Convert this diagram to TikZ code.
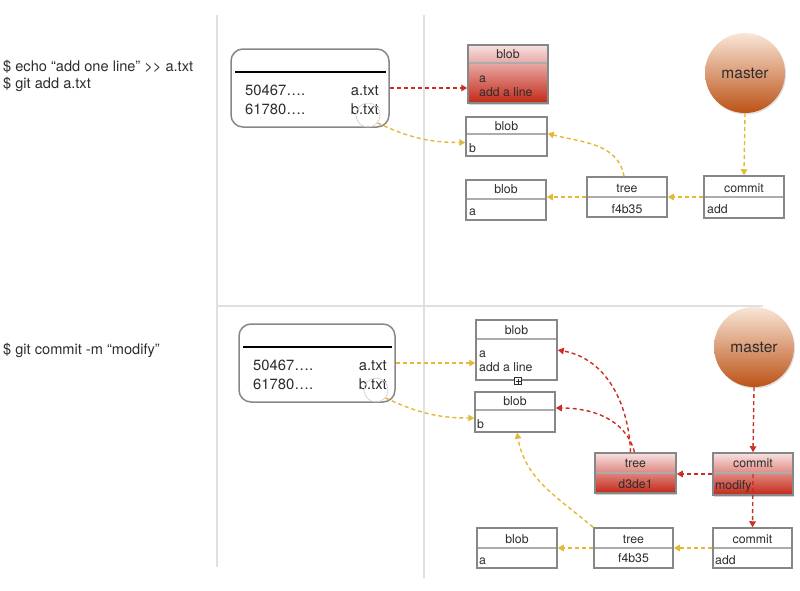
\documentclass[tikz,border=0pt]{standalone}
\usepackage{fontspec}
\setmainfont{TeX Gyre Heros}
\usetikzlibrary{arrows.meta,shadows,calc}
\definecolor{boxgray}{RGB}{135,135,135}
\definecolor{sepgray}{RGB}{172,172,172}
\definecolor{ylw}{RGB}{225,185,50}
\definecolor{rd}{RGB}{205,45,35}
\definecolor{txt}{RGB}{45,45,45}
\definecolor{rulegray}{RGB}{224,224,224}
\definecolor{rdtop}{RGB}{247,226,226}
\definecolor{rdbot}{RGB}{196,40,24}
\definecolor{mtop}{RGB}{249,230,216}
\definecolor{mbot}{RGB}{188,82,22}
\begin{document}
\begin{tikzpicture}[x=1pt,y=-1pt,
  obj/.style={draw=boxgray, line width=1.5pt, rectangle, inner sep=0pt, fill=white},
  redobj/.style={obj, top color=rdtop, bottom color=rdbot,
    drop shadow={opacity=0.35, shadow xshift=1.2pt, shadow yshift=-1.5pt}},
  idxbox/.style={draw=boxgray, line width=1.5pt, rectangle, rounded corners=12pt, inner sep=0pt, fill=white},
  mastercirc/.style={circle, minimum size=80pt, inner sep=0pt, top color=mtop, bottom color=mbot,
    font=\fontsize{15.5}{17}\selectfont, text=txt,
    drop shadow={opacity=0.25, shadow xshift=1pt, shadow yshift=-1.5pt}},
  hint/.style={circle, draw=gray!35, line width=0.7pt, minimum size=24pt, inner sep=0pt},
  sep/.style={draw=sepgray, line width=2.2pt},
  blackrule/.style={draw=black, line width=2.8pt},
  rulel/.style={draw=rulegray, line width=2.5pt},
  lbl/.style={font=\fontsize{12.3}{14}\selectfont, text=txt, inner sep=0pt},
  idxt/.style={font=\fontsize{14.8}{17}\selectfont, text=txt, inner sep=0pt},
  cmd/.style={font=\fontsize{14.6}{17}\selectfont, text=txt, inner sep=0pt, anchor=base west},
  ya/.style={draw=ylw, line width=1.4pt, dash pattern=on 4pt off 3pt, -{Triangle[length=6pt,width=6.5pt]}},
  ra/.style={draw=rd, line width=1.4pt, dash pattern=on 4pt off 3pt, -{Triangle[length=6pt,width=6.5pt]}}
]
\useasboundingbox (0,0) rectangle (800,590);

% frame rules
\draw[rulel] (217,15) -- (217,567);
\draw[rulel] (424,15) -- (424,578);
\draw[rulel] (217,306) -- (763,306);

% commands
\node[cmd] (c1) at (3,71) {\$ echo “add one line” >{}> a.txt};
\node[cmd] (c2) at (3,88) {\$ git add a.txt};
\node[cmd] (c3) at (3,354) {\$ git commit -m “modify”};

% ================= TOP =================
\node[idxbox, minimum width=158, minimum height=78] (idx1) at (310,88) {};
\draw[blackrule] (235,72) -- (386,72);
\node[idxt, anchor=base west] (i1a) at (245,95) {50467….};
\node[idxt, anchor=base east] (i1b) at (379,95) {a.txt};
\node[idxt, anchor=base west] (i1c) at (245,114) {61780….};
\node[idxt, anchor=base east] (i1d) at (379,114) {b.txt};
\node[hint] (circ1) at (368,115) {};

\node[redobj, minimum width=80, minimum height=58] (rb1) at (508,74) {};
\draw[sep] (469,63) -- (547,63);
\node[lbl, anchor=base] (rb1t) at (508,58) {blob};
\node[lbl, anchor=base west] (rb1a) at (479,82) {a};
\node[lbl, anchor=base west] (rb1b) at (479,96) {add a line};

\node[obj, minimum width=81, minimum height=39] (bb1) at (506.5,136.5) {};
\draw[sep] (467,134) -- (546,134);
\node[lbl, anchor=base] (bb1t) at (506.5,130) {blob};
\node[lbl, anchor=base west] (bb1a) at (469,152) {b};

\node[obj, minimum width=80, minimum height=40] (ba1) at (506,200) {};
\draw[sep] (467,199) -- (545,199);
\node[lbl, anchor=base] (ba1t) at (506,193) {blob};
\node[lbl, anchor=base west] (ba1a) at (469,215) {a};

\node[obj, minimum width=80, minimum height=40] (tr1) at (627,197) {};
\draw[sep] (588,197) -- (666,197);
\node[lbl, anchor=base] (tr1t) at (627,192) {tree};
\node[lbl, anchor=base] (tr1a) at (627,213) {f4b35};

\node[obj, minimum width=80, minimum height=42] (cm1) at (744,197) {};
\draw[sep] (705,197) -- (783,197);
\node[lbl, anchor=base] (cm1t) at (744,192) {commit};
\node[lbl, anchor=base west] (cm1a) at (707,213) {add};

\node[mastercirc] (ms1) at (745,73) {master};

% top connectors
\draw[ra] (idx1.east) -- (idx1.east -| rb1.west);
\draw[ya] (circ1.-40) to[out=-25,in=180] ([yshift=-6pt]bb1.west);
\draw[ya] ([xshift=-3pt]tr1.north) to[out=100,in=-15] ([yshift=3pt]bb1.east);
\draw[ya] (ms1.south) -- (cm1.north);
\draw[ya] (cm1.west) -- (cm1.west -| tr1.east);
\draw[ya] (tr1.west) -- (tr1.west -| ba1.east);

% ================= BOTTOM =================
\node[idxbox, minimum width=156, minimum height=78] (idx2) at (317,363) {};
\draw[blackrule] (243,347) -- (392,347);
\node[idxt, anchor=base west] (i2a) at (253,370) {50467….};
\node[idxt, anchor=base east] (i2b) at (387,370) {a.txt};
\node[idxt, anchor=base west] (i2c) at (253,389) {61780….};
\node[idxt, anchor=base east] (i2d) at (387,389) {b.txt};
\node[hint] (circ2) at (376,390) {};

\node[obj, minimum width=81, minimum height=60] (bA2) at (516.5,350) {};
\draw[sep] (477,339) -- (556,339);
\node[lbl, anchor=base] (bA2t) at (516.5,334) {blob};
\node[lbl, anchor=base west] (bA2a) at (479,357) {a};
\node[lbl, anchor=base west] (bA2b) at (479,371) {add a line};
\draw[txt, fill=white, line width=0.6pt] (514.5,377.5) rectangle (521.5,384.5);
\draw[txt, line width=0.6pt] (518,378.5) -- (518,383.5) (515.5,381) -- (520.5,381);

\node[obj, minimum width=80, minimum height=40] (bB2) at (515,412) {};
\draw[sep] (476,410) -- (554,410);
\node[lbl, anchor=base] (bB2t) at (515,405) {blob};
\node[lbl, anchor=base west] (bB2a) at (477,428) {b};

\node[redobj, minimum width=81, minimum height=40] (tr2) at (635.5,473) {};
\draw[sep] (596,473) -- (675,473);
\node[lbl, anchor=base] (tr2t) at (635.5,467) {tree};
\node[lbl, anchor=base] (tr2a) at (635.5,488) {d3de1};

\node[redobj, minimum width=80, minimum height=42] (cm2) at (753,474) {};
\draw[sep] (714,473) -- (792,473);
\node[lbl, anchor=base] (cm2t) at (753,467) {commit};
\node[lbl, anchor=base west] (cm2a) at (715,489) {modify};

\node[mastercirc] (ms2) at (754,347) {master};

\node[obj, minimum width=80, minimum height=40] (ba3) at (517,548) {};
\draw[sep] (478,548) -- (556,548);
\node[lbl, anchor=base] (ba3t) at (517,543) {blob};
\node[lbl, anchor=base west] (ba3a) at (479,564) {a};

\node[obj, minimum width=79, minimum height=40] (tr3) at (633.5,548) {};
\draw[sep] (595,548) -- (672,548);
\node[lbl, anchor=base] (tr3t) at (633.5,543) {tree};
\node[lbl, anchor=base] (tr3a) at (633.5,562) {f4b35};

\node[obj, minimum width=79, minimum height=40] (cm3) at (752.5,548) {};
\draw[sep] (714,548) -- (791,548);
\node[lbl, anchor=base] (cm3t) at (752.5,543) {commit};
\node[lbl, anchor=base west] (cm3a) at (715,564) {add};

% bottom connectors
\draw[ya] (idx2.east) -- (idx2.east -| bA2.west);
\draw[ya] (circ2.-40) to[out=-25,in=180] ([yshift=-6pt]bB2.west);
\draw[ra] ([xshift=-5pt]tr2.north) to[out=92,in=-10] (bA2.east);
\draw[ra] ([xshift=-1pt]tr2.north) to[out=105,in=0] ([yshift=4pt]bB2.east);
\draw[ya] (tr3.north west) to[out=140,in=-80] ([xshift=2pt]bB2.south);
\draw[ra] (ms2.south) -- (cm2.north);
\draw[ra] (cm2.west) -- (cm2.west -| tr2.east);
\draw[ra] (cm2.center) -- (cm3.north);
\draw[ya] (cm3.west) -- (cm3.west -| tr3.east);
\draw[ya] (tr3.west) -- (tr3.west -| ba3.east);
\end{tikzpicture}
\end{document}
